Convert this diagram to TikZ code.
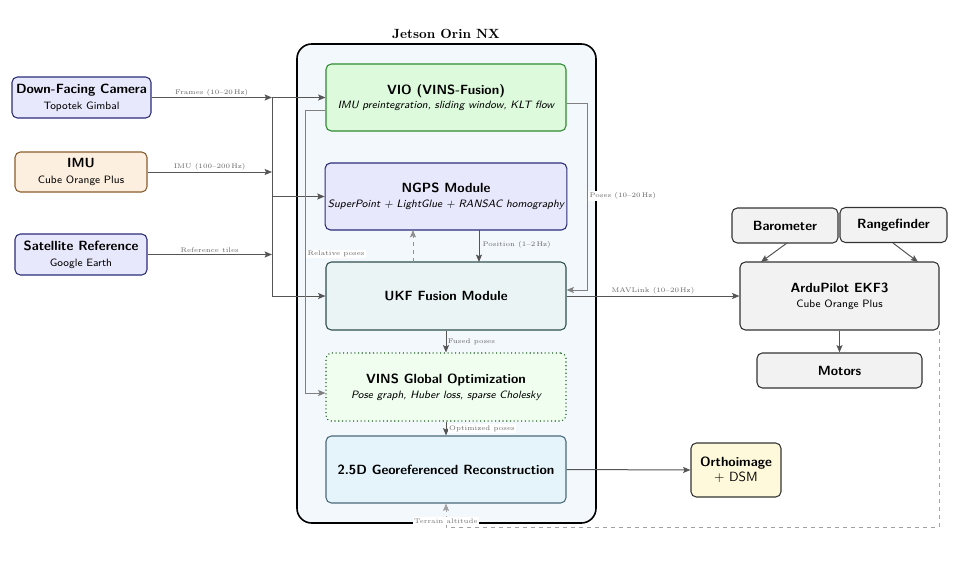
\documentclass[tikz,border=0pt]{standalone}
\usetikzlibrary{arrows.meta,calc}
\definecolor{lineg}{HTML}{555555}
\definecolor{lightg}{HTML}{808080}
\definecolor{labg}{HTML}{666666}
\definecolor{navyb}{HTML}{2B2B78}
\definecolor{lavf}{HTML}{E8E8FC}
\definecolor{orf}{HTML}{FDEFE0}
\definecolor{brownb}{HTML}{8B5A2B}
\definecolor{greenf}{HTML}{DDFADD}
\definecolor{greenb}{HTML}{2E8B2E}
\definecolor{ukff}{HTML}{EAF4F4}
\definecolor{ukfb}{HTML}{2F4F4F}
\definecolor{glof}{HTML}{F0FEF0}
\definecolor{glob}{HTML}{1F5F1F}
\definecolor{recf}{HTML}{E4F4FA}
\definecolor{recb}{HTML}{4A6A7A}
\definecolor{contf}{HTML}{F2F8FC}
\definecolor{grayf}{HTML}{F2F2F2}
\definecolor{grayb}{HTML}{333333}
\definecolor{yelf}{HTML}{FFF9DC}
\begin{document}
\begin{tikzpicture}[x=0.75pt,y=-0.75pt,
  box/.style={draw, rounded corners=4pt, line width=0.8pt, align=center, inner sep=2pt, font=\sffamily},
  arr/.style={draw=lineg, line width=0.75pt, -{Stealth[length=5.5pt,width=4.5pt,inset=1pt]}},
  plain/.style={draw=lineg, line width=0.75pt},
  lab/.style={font=\tiny, text=labg, inner sep=1pt},
  wlab/.style={font=\tiny, text=labg, inner sep=1pt, fill=white}]
\useasboundingbox (0,0) rectangle (965,564);

% container
\node[draw, rounded corners=11pt, line width=1.2pt, fill=contf, minimum width=224.25pt, minimum height=359.25pt] (jetson) at (446.5,283.5) {};
\node[font=\bfseries] (jtitle) at (446,34) {Jetson Orin NX};

% sources
\node[box, draw=navyb, fill=lavf, minimum width=104.25pt, minimum height=30.75pt] (cam) at (81.5,97.5) {\bfseries Down-Facing Camera\\[0pt]\footnotesize Topotek Gimbal};
\node[box, draw=brownb, fill=orf, minimum width=99pt, minimum height=30pt] (imu) at (81,172) {\bfseries IMU\\[0pt]\footnotesize Cube Orange Plus};
\node[box, draw=navyb, fill=lavf, minimum width=99pt, minimum height=30.75pt] (sat) at (81,254.5) {\bfseries Satellite Reference\\[0pt]\footnotesize Google Earth};

% inner modules
\node[box, draw=greenb, fill=greenf, minimum width=180pt, minimum height=50.25pt] (vio) at (446,97.5) {\bfseries VIO (VINS-Fusion)\\[-1pt]\footnotesize\itshape IMU preintegration, sliding window, KLT flow};
\node[box, draw=navyb, fill=lavf, minimum width=180pt, minimum height=50.25pt] (ngps) at (446,196.5) {\bfseries NGPS Module\\[-1pt]\footnotesize\itshape SuperPoint + LightGlue + RANSAC homography};
\node[box, draw=ukfb, fill=ukff, minimum width=180pt, minimum height=51pt] (ukf) at (446,296) {\bfseries UKF Fusion Module};
\node[box, draw=glob, fill=glof, dotted, minimum width=180pt, minimum height=51pt] (glo) at (446,387) {\bfseries VINS Global Optimization\\[-1pt]\footnotesize\itshape Pose graph, Huber loss, sparse Cholesky};
\node[box, draw=recb, fill=recf, minimum width=180pt, minimum height=50.25pt] (rec) at (446,469.5) {\bfseries 2.5D Georeferenced Reconstruction};

% right side
\node[box, draw=grayb, fill=yelf, minimum width=67.5pt, minimum height=40.5pt] (ortho) at (736,470) {\bfseries Orthoimage\\[-1pt]+ DSM};
\node[box, draw=grayb, fill=grayf, minimum width=79.5pt, minimum height=26.25pt] (baro) at (785,225.5) {\bfseries Barometer};
\node[box, draw=grayb, fill=grayf, minimum width=80.25pt, minimum height=26.25pt] (range) at (893.5,225) {\bfseries Rangefinder};
\node[box, draw=grayb, fill=grayf, minimum width=149.25pt, minimum height=51pt] (ardu) at (839.5,296) {\bfseries ArduPilot EKF3\\[-1pt]\footnotesize Cube Orange Plus};
\node[box, draw=grayb, fill=grayf, minimum width=123.75pt, minimum height=26.25pt] (motors) at (839.5,370.5) {\bfseries Motors};

% bus
\coordinate (busT) at (272,97.5);
\coordinate (busM) at (272,196.5);
\coordinate (busB) at (272,296);
\draw[arr] (cam.east) -- node[lab, above] {Frames (10--20\,Hz)} (cam.east -| busT);
\draw[arr] (imu.east) -- node[lab, above] {IMU (100--200\,Hz)} (imu.east -| busT);
\draw[arr] (sat.east) -- node[lab, above] {Reference tiles} (sat.east -| busT);
\draw[plain] (busT) -- (busB);
\draw[arr] (busT) -- (vio.west);
\draw[arr] (busM) -- (ngps.west);
\draw[arr] (busB) -- (ukf.west);

% poses from VIO to UKF
\coordinate (pA) at ($(vio.east)+(0,5.5)$);
\coordinate (pB) at (587,103);
\coordinate (pC) at (587,290);
\coordinate (pD) at ($(ukf.east)+(0,-6)$);
\draw[arr, draw=lightg] (pA) -- (pB) -- (pC) -- (pD);
\node[wlab, anchor=west] (poseslab) at (588,196) {Poses (10--20\,Hz)};

% relative poses
\coordinate (rA) at ($(vio.west)+(0,12.5)$);
\coordinate (rB) at (305,110);
\coordinate (rC) at (305,393);
\coordinate (rD) at ($(glo.west)+(0,6)$);
\draw[arr, draw=lightg] (rA) -- (rB) -- (rC) -- (rD);
\node[wlab, anchor=west] (rellab) at (306,254) {Relative poses};

% NGPS <-> UKF
\coordinate (nS) at (479,230);
\coordinate (uN) at (479,262);
\draw[arr] (nS) -- (uN);
\node[lab, anchor=west] (poslab) at (481,245) {Position (1--2\,Hz)};
\coordinate (uN2) at (413,262);
\coordinate (nS2) at (413,230);
\draw[arr, draw=lineg!65, dashed] (uN2) -- (nS2);

% vertical chain
\draw[arr] (ukf.south) -- node[lab, right] {Fused poses} (glo.north);
\draw[arr] (glo.south) -- node[wlab, right, xshift=1pt] {Optimized poses} (rec.north);

% outputs
\draw[arr] (ukf.east) -- node[lab, above, pos=0.5] {MAVLink (10--20\,Hz)} (ardu.west);
\draw[arr] (rec.east) -- (ortho.west);
\coordinate (bS) at (787,243);
\coordinate (aN1) at (761,262);
\coordinate (rS) at (893,243);
\coordinate (aN2) at (918,262);
\draw[arr] (bS) -- (aN1);
\draw[arr] (rS) -- (aN2);
\draw[arr] (ardu.south) -- (motors.north);

% terrain altitude
\coordinate (tA) at (939,331);
\coordinate (tB) at (939,527);
\coordinate (tC) at (446,527);
\draw[arr, draw=lineg!55, dashed] (tA) -- (tB) -- (tC) -- (rec.south);
\node[wlab, text=labg!90] (terrlab) at (446,521) {Terrain altitude};
\end{tikzpicture}
\end{document}
